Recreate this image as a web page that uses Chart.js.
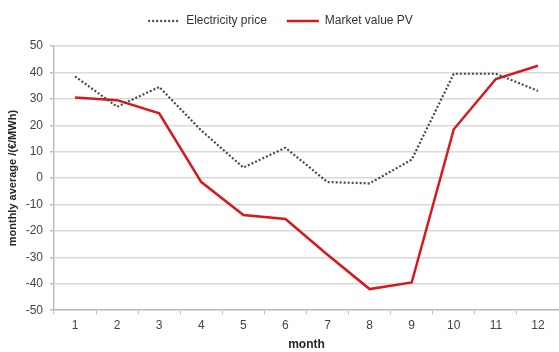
<!DOCTYPE html>
<html>
<head>
<meta charset="utf-8">
<script src="https://cdn.jsdelivr.net/npm/chart.js@4/dist/chart.umd.min.js"></script>
<style>
  html, body { margin: 0; padding: 0; background: #fff; }
  #wrap { width: 559px; height: 352px; }
</style>
</head>
<body>
<div id="wrap"><canvas id="priceChart" width="559" height="352"></canvas></div>
<script>
// monthly averages
const months = ['1','2','3','4','5','6','7','8','9','10','11','12'];
const electricityPrice = [38.5, 27, 34.5, 18, 4, 11.5, -1.5, -2, 7, 39.5, 39.5, 33];
const marketValuePV = [30.5, 29.5, 24.5, -1.5, -14, -15.5, -29, -42, -39.5, 18.5, 37.5, 42.5];
const yTicks = [50, 40, 30, 20, 10, 0, -10, -20, -30, -40, -50];

const FONT = 'Liberation Sans, Arial, sans-serif';
const TXT = '#444';

// a bit of extra room under the legend
const legendGap = {
  id: 'legendGap',
  beforeInit(chart) {
    const fit = chart.legend.fit;
    chart.legend.fit = function () { fit.call(this); this.height += 9; };
  }
};

new Chart(document.getElementById('priceChart'), {
  type: 'line',
  data: {
    labels: months,
    datasets: [
      { label: 'Electricity price', data: electricityPrice, borderColor: '#4a4a4a', backgroundColor: '#4a4a4a', borderWidth: 2.2, borderDash: [2, 2], pointRadius: 0, tension: 0 },
      { label: 'Market value PV', data: marketValuePV, borderColor: '#d7191f', backgroundColor: '#d7191f', borderWidth: 2.5, pointRadius: 0, tension: 0 }
    ]
  },
  options: {
    responsive: false,
    animation: false,
    layout: { padding: { top: -5, right: 0, bottom: 0, left: 2 } },
    plugins: {
      legend: {
        labels: {
          usePointStyle: true, pointStyle: 'line', pointStyleWidth: 32, padding: 20, color: '#333', font: { family: FONT, size: 12 },
          generateLabels: (chart) => chart.data.datasets.map((ds, i) => ({
            text: ds.label, datasetIndex: i, pointStyle: 'line',
            strokeStyle: ds.borderColor, fillStyle: ds.borderColor,
            lineWidth: ds.borderWidth, lineDash: ds.borderDash || [], fontColor: '#333'
          }))
        }
      },
      tooltip: { enabled: false }
    },
    scales: {
      x: {
        offset: true,
        grid: { offset: true, drawOnChartArea: false, drawTicks: true, tickLength: 4, color: '#bfbfbf' },
        border: { color: '#bfbfbf', width: 1.5 },
        ticks: { color: TXT, font: { family: FONT, size: 12 }, padding: 4, maxRotation: 0 },
        title: { display: true, text: 'month', color: '#262626', font: { family: FONT, size: 12, weight: 'bold' }, padding: { top: 1, bottom: 0 } }
      },
      y: {
        min: -50, max: 50,
        afterBuildTicks: (scale) => { scale.ticks = yTicks.map(v => ({ value: v })); },
        afterFit: (scale) => { scale.width = 52; },
        grid: { color: '#d9d9d9', lineWidth: 1.5, tickLength: 4, tickColor: '#bfbfbf' },
        border: { color: '#bfbfbf', width: 1.5 },
        ticks: { color: TXT, font: { family: FONT, size: 12 }, padding: 7 },
        title: { display: true, text: 'monthly average /(€/MWh)', color: '#262626', font: { family: FONT, size: 11, weight: 'bold' }, padding: { top: 4, bottom: 0 } }
      }
    }
  },
  plugins: [legendGap]
});
</script>
</body>
</html>
